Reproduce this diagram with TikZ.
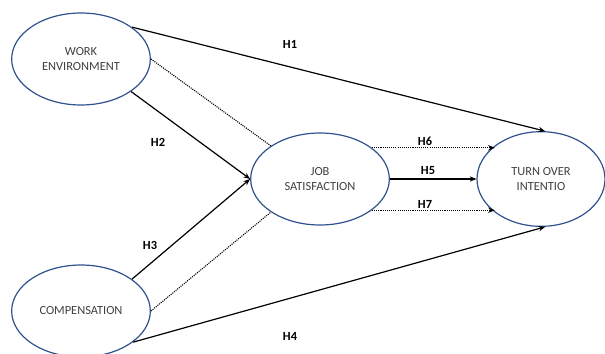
\documentclass[tikz,border=0pt]{standalone}
\usepackage{fontspec}
\setmainfont{Carlito}
\usetikzlibrary{shapes.geometric,arrows.meta}
\definecolor{rim}{HTML}{2F528F}
\definecolor{ink}{HTML}{404040}

\tikzset{
	construct/.style={ellipse, draw=rim, line width=0.9pt, inner sep=0pt,
		minimum width=104pt, minimum height=69pt, align=center,
		text=ink, font=\fontsize{9.3}{11.5}\selectfont},
	path/.style={line width=0.9pt, -{Stealth[length=5pt,width=4pt]}},
	dots/.style={line width=0.8pt, dash pattern=on 0.8pt off 0.8pt},
	hyp/.style={font=\bfseries\fontsize{9.3}{11}\selectfont}
}

\begin{document}
\begin{tikzpicture}[x=0.75pt, y=-0.75pt]
	\useasboundingbox (0,0) rectangle (605,353);
	% constructs
	\node[construct] (work) at (81,59) {WORK\\ENVIRONMENT};
	\node[construct] (comp) at (81,311) {COMPENSATION};
	\node[construct] (job) at (320,179) {JOB\\SATISFACTION};
	\node[construct, minimum width=96pt, minimum height=71pt] (turn) at (541,179) {TURN OVER\\INTENTIO};
	% direct paths
	\draw[path] (work.32) -- (turn.85);
	\draw[path] (work.-33) -- (job.west);
	\draw[path] (comp.32) -- (job.west);
	\draw[path] (comp.-31) -- (turn.-85);
	\draw[path] (job.east) -- (turn.west);
	% mediated paths
	\draw[dots] (work.east) -- (job.146);
	\draw[dots] (comp.east) -- (job.214);
	\draw[dots, -{Stealth[length=5pt,width=4pt]}] (job.31) -- (job.31 -| turn.144);
	\draw[dots, -{Stealth[length=5pt,width=4pt]}] (job.-31) -- (job.-31 -| turn.-144);
	% labels
	\node[hyp] (h1) at (290,44) {H1};
	\node[hyp] (h2) at (158,142) {H2};
	\node[hyp] (h3) at (150,245) {H3};
	\node[hyp] (h4) at (290,336) {H4};
	\node[hyp] (h5) at (428,171) {H5};
	\node[hyp] (h6) at (425,141) {H6};
	\node[hyp] (h7) at (425,204) {H7};
\end{tikzpicture}
\end{document}
